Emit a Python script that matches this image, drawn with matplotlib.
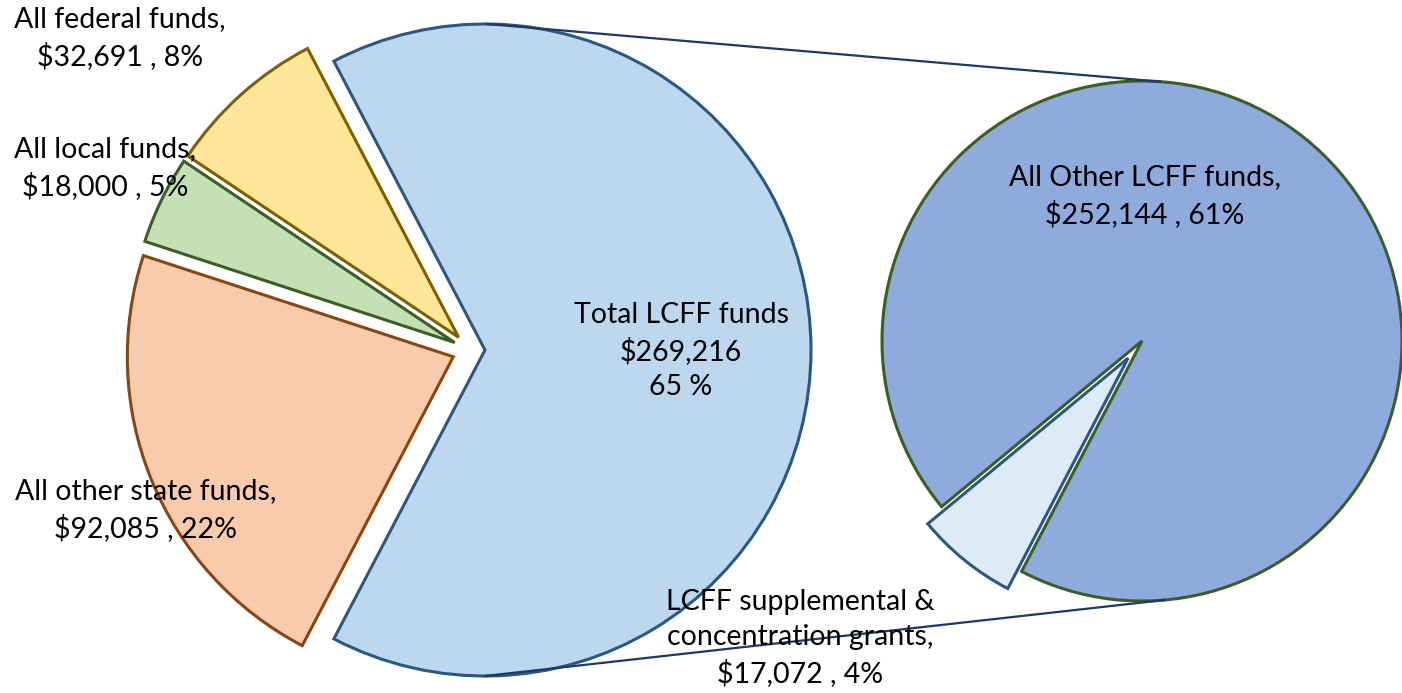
#!/usr/bin/env python
#
# Pie-of-pie: district revenue split, LCFF broken out on the right

import numpy as np
import matplotlib
matplotlib.use('agg')
import matplotlib.pyplot as plt

# left pie: all revenue
main_labels = ["Total LCFF funds", "All federal funds", "All local funds", "All other state funds"]
main_values = [269216, 32691, 18000, 92085]
main_pcts = [65, 8, 5, 22]

# right pie: breakdown of the LCFF slice
lcff_labels = ["All Other LCFF funds", "LCFF supplemental &\nconcentration grants"]
lcff_values = [252144, 17072]
lcff_pcts = [61, 4]

main_colors = ['#BDD7EE', '#FFE699', '#C5E0B4', '#F8CBAD']
main_edges = ['#2A5883', '#7F6000', '#3B5E27', '#8A4512']
lcff_colors = ['#8FAADC', '#DEEBF7']
lcff_edges = ['#3B5E27', '#2A5883']

W, H = 1402, 693
fig = plt.figure(figsize=(W / 100, H / 100), dpi=100)
ax = fig.add_axes([0, 0, 1, 1])

# left pie geometry (pixel units, y up); pie's explode is in data units
c1 = (470, H - 350)
r1 = 326
expl1 = [15, 17, 17, 18]
lcff_frac = main_values[0] / sum(main_values)
start1 = -lcff_frac * 180
wedges1, _ = ax.pie(main_values, center=c1, radius=r1, startangle=start1,
                    explode=expl1, colors=main_colors,
                    wedgeprops=dict(linewidth=2.2), frame=True)
for w, ec in zip(wedges1, main_edges):
    w.set_edgecolor(ec)

# right pie geometry
c2 = (1142, H - 341)
r2 = 260
small_mid = 231
small_span = lcff_values[1] / sum(lcff_values) * 360
start2 = small_mid + small_span / 2
wedges2, _ = ax.pie(lcff_values, center=c2, radius=r2, startangle=start2,
                    explode=[0, 22], colors=lcff_colors,
                    wedgeprops=dict(linewidth=2.2), frame=True)
for w, ec in zip(wedges2, lcff_edges):
    w.set_edgecolor(ec)

# connector lines between the two pies
lx = c1[0] + expl1[0]
a_top, a_bot = np.radians(86), np.radians(-85)
ax.plot([lx + 2, c2[0] + r2 * np.cos(a_top)], [c1[1] + r1, c2[1] + r2 * np.sin(a_top)],
        color='#1F3864', lw=1.6, zorder=5)
ax.plot([lx, c2[0] + r2 * np.cos(a_bot)], [c1[1] - r1, c2[1] + r2 * np.sin(a_bot)],
        color='#1F3864', lw=1.6, zorder=5)

ax.set_xlim(0, W)
ax.set_ylim(0, H)
ax.set_aspect('equal')
ax.axis('off')

font = dict(family='Lato', fontsize=20.5, color='black', ha='center', va='center',
            linespacing=1.42, zorder=6)

ax.text(681, H - 351, "{}\n${:,}\n{} %".format(main_labels[0], main_values[0], main_pcts[0]), **font)
ax.text(120, H - 38, "{},\n${:,} , {}%".format(main_labels[1], main_values[1], main_pcts[1]), **font)
ax.text(105, H - 168, "{},\n${:,} , {}%".format(main_labels[2], main_values[2], main_pcts[2]), **font)
ax.text(146, H - 510, "{},\n${:,} , {}%".format(main_labels[3], main_values[3], main_pcts[3]), **font)
ax.text(1145, H - 196, "{},\n${:,} , {}%".format(lcff_labels[0], lcff_values[0], lcff_pcts[0]), **font)
ax.text(800, H - 638, "{},\n${:,} , {}%".format(lcff_labels[1], lcff_values[1], lcff_pcts[1]), **font)

plt.savefig("out.png", dpi=100)
